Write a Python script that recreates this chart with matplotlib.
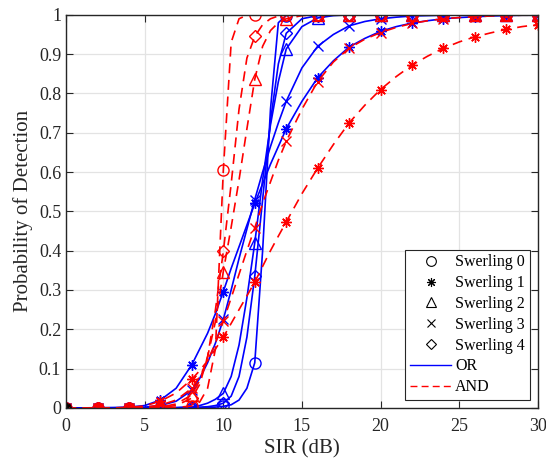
import numpy as np
import matplotlib
matplotlib.use('Agg')
import matplotlib.pyplot as plt

plt.rcParams['font.family'] = ['Liberation Serif', 'DejaVu Serif']
plt.rcParams['mathtext.fontset'] = 'stix'

# SIR grid (dB), finer where curves are steep
sir = [0, 1, 2, 3, 4, 5, 6, 7, 8, 8.5, 9, 9.5, 10, 10.5, 11, 11.5, 12, 12.5,
       13, 13.5, 14, 15, 16, 17, 18, 19, 20, 21, 22, 23, 24, 25, 26, 27, 28, 29, 30]

# OR fusion (blue, solid)
or_s0 = [0, 0, 0, 0, 0, 0, 0, 0, 0, 0, 0.001, 0.002, 0.004, 0.008, 0.02, 0.05, 0.115, 0.4,
         0.76, 0.98, 0.998, 1, 1, 1, 1, 1, 1, 1, 1, 1, 1, 1, 1, 1, 1, 1, 1]
or_s1 = [0, 0, 0.0005, 0.001, 0.002, 0.006, 0.02, 0.05, 0.11, 0.15, 0.19, 0.24, 0.296, 0.355,
         0.41, 0.465, 0.52, 0.57, 0.62, 0.665, 0.71, 0.78, 0.84, 0.883, 0.918, 0.94, 0.958,
         0.97, 0.979, 0.985, 0.99, 0.993, 0.995, 0.997, 0.998, 0.999, 0.999]
or_s2 = [0, 0, 0, 0, 0, 0, 0, 0.001, 0.003, 0.006, 0.012, 0.022, 0.037, 0.08, 0.16, 0.28,
         0.42, 0.58, 0.72, 0.83, 0.913, 0.97, 0.992, 0.998, 1, 1, 1, 1, 1, 1, 1, 1, 1, 1, 1, 1, 1]
or_s3 = [0, 0, 0, 0, 0.001, 0.002, 0.006, 0.017, 0.045, 0.075, 0.115, 0.165, 0.225, 0.3,
         0.38, 0.455, 0.53, 0.6, 0.665, 0.725, 0.78, 0.865, 0.92, 0.95, 0.972, 0.983, 0.99,
         0.994, 0.997, 0.998, 0.999, 1, 1, 1, 1, 1, 1]
or_s4 = [0, 0, 0, 0, 0, 0, 0, 0, 0.001, 0.002, 0.003, 0.006, 0.012, 0.03, 0.08, 0.18, 0.335,
         0.53, 0.73, 0.875, 0.953, 0.99, 0.998, 1, 1, 1, 1, 1, 1, 1, 1, 1, 1, 1, 1, 1, 1]

# AND fusion (red, dashed)
and_s0 = [0, 0, 0, 0, 0, 0, 0, 0.001, 0.005, 0.015, 0.05, 0.15, 0.604, 0.93, 0.99, 0.999,
          1, 1, 1, 1, 1, 1, 1, 1, 1, 1, 1, 1, 1, 1, 1, 1, 1, 1, 1, 1, 1]
and_s1 = [0, 0, 0, 0, 0.001, 0.005, 0.017, 0.038, 0.073, 0.095, 0.12, 0.15, 0.18, 0.215,
          0.25, 0.285, 0.32, 0.36, 0.4, 0.437, 0.473, 0.545, 0.61, 0.67, 0.725, 0.77, 0.81,
          0.843, 0.872, 0.895, 0.915, 0.931, 0.944, 0.954, 0.963, 0.97, 0.975]
and_s2 = [0, 0, 0, 0, 0, 0, 0.002, 0.01, 0.033, 0.07, 0.13, 0.22, 0.347, 0.46, 0.58, 0.71,
          0.836, 0.92, 0.96, 0.98, 0.99, 0.998, 1, 1, 1, 1, 1, 1, 1, 1, 1, 1, 1, 1, 1, 1, 1]
and_s3 = [0, 0, 0, 0, 0.001, 0.002, 0.007, 0.02, 0.05, 0.08, 0.12, 0.165, 0.22, 0.28, 0.34,
          0.4, 0.458, 0.52, 0.575, 0.63, 0.678, 0.76, 0.83, 0.88, 0.915, 0.938, 0.955, 0.968,
          0.978, 0.985, 0.99, 0.993, 0.995, 0.997, 0.998, 0.999, 0.999]
and_s4 = [0, 0, 0, 0, 0, 0, 0.001, 0.006, 0.025, 0.06, 0.13, 0.25, 0.398, 0.57, 0.76, 0.89,
          0.945, 0.975, 0.99, 0.997, 0.999, 1, 1, 1, 1, 1, 1, 1, 1, 1, 1, 1, 1, 1, 1, 1, 1]

labels = ['Swerling 0', 'Swerling 1', 'Swerling 2', 'Swerling 3', 'Swerling 4']
markers = ['o', (8, 2, 0), '^', 'x', 'D']
msizes = [8, 7.5, 8, 6.5, 6.5]

x = np.array(sir)
mk = (x % 2 == 0)  # markers every 2 dB

fig = plt.figure(figsize=(5.46, 4.63), dpi=100)
ax = fig.add_axes([0.121, 0.119, 0.864, 0.849])

or_data = [or_s0, or_s1, or_s2, or_s3, or_s4]
and_data = [and_s0, and_s1, and_s2, and_s3, and_s4]

for i in range(5):
    y = np.array(or_data[i])
    ax.plot(x, y, color='b', lw=1.2)
    ax.plot(x[mk], y[mk], linestyle='none', marker=markers[i], ms=msizes[i],
            mfc='none', mec='b', mew=1.0)
for i in range(5):
    y = np.array(and_data[i])
    ax.plot(x, y, color='r', lw=1.2, ls=(0, (6, 4)))
    ax.plot(x[mk], y[mk], linestyle='none', marker=markers[i], ms=msizes[i],
            mfc='none', mec='r', mew=1.0)

# legend proxies (black markers at origin, like the original)
handles = []
for i in range(5):
    h, = ax.plot([0], [0], linestyle='none', marker=markers[i], ms=msizes[i] - 1,
                 mfc='none', mec='k', mew=0.8, label=labels[i])
    handles.append(h)
h_or, = ax.plot([], [], color='b', lw=1, label='OR')
h_and, = ax.plot([], [], color='r', lw=1, ls=(0, (5, 3)), label='AND')
handles += [h_or, h_and]

ax.set_xlim(0, 30)
ax.set_ylim(0, 1)
ax.set_xticks([0, 5, 10, 15, 20, 25, 30])
ax.set_yticks(np.arange(0, 1.01, 0.1))
ax.set_yticklabels(['0', '0.1', '0.2', '0.3', '0.4', '0.5', '0.6', '0.7', '0.8', '0.9', '1'])
ax.grid(True, color='#e3e3e3', lw=0.9)
ax.set_axisbelow(True)
ax.tick_params(direction='in', top=True, right=True, labelsize=13, colors='#262626', length=5)
ax.tick_params(axis='x', pad=7)
for s in ax.spines.values():
    s.set_color('#262626')
    s.set_linewidth(1.0)
ax.set_xlabel('SIR (dB)', fontsize=15, color='#262626', labelpad=3)
ax.set_ylabel('Probability of Detection', fontsize=15, color='#262626')

leg = ax.legend(handles=handles, loc='lower right', fontsize=11.5, fancybox=False,
                edgecolor='#262626', framealpha=1, handlelength=2.6, labelspacing=0.3,
                borderpad=0.3, handletextpad=0.25, borderaxespad=0.5)
leg.get_frame().set_linewidth(0.8)

fig.savefig('out.png', dpi=100)
